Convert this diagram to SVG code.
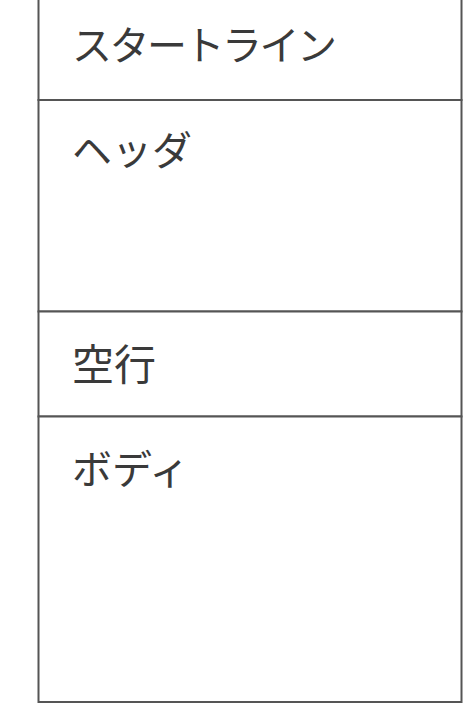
<svg xmlns="http://www.w3.org/2000/svg" width="468" height="716" viewBox="0 0 468 716">
<style>
.t{font-family:"Noto Sans CJK JP","Noto Sans",sans-serif;font-size:40px;fill:#3a3a3a}
.b{fill:#ffffff;stroke:#555555;stroke-width:2}
</style>
<rect width="468" height="716" fill="#ffffff"/>
<g id="startline"><rect class="b" x="38.5" y="-10" width="423" height="110"/><text class="t" x="72" y="60" letter-spacing="-2.5">スタートライン</text></g>
<g id="header"><rect class="b" x="38.5" y="100" width="423" height="211.5"/><text class="t" x="72" y="165">ヘッダ</text></g>
<g id="blank"><rect class="b" x="38.5" y="311.5" width="423" height="105"/><text class="t" x="72" y="380" style="font-size:42px">空行</text></g>
<g id="body"><rect class="b" x="38.5" y="416.5" width="423" height="285.5"/><text class="t" x="72" y="484">ボディ</text></g>
<g id="connectors"/>
</svg>
